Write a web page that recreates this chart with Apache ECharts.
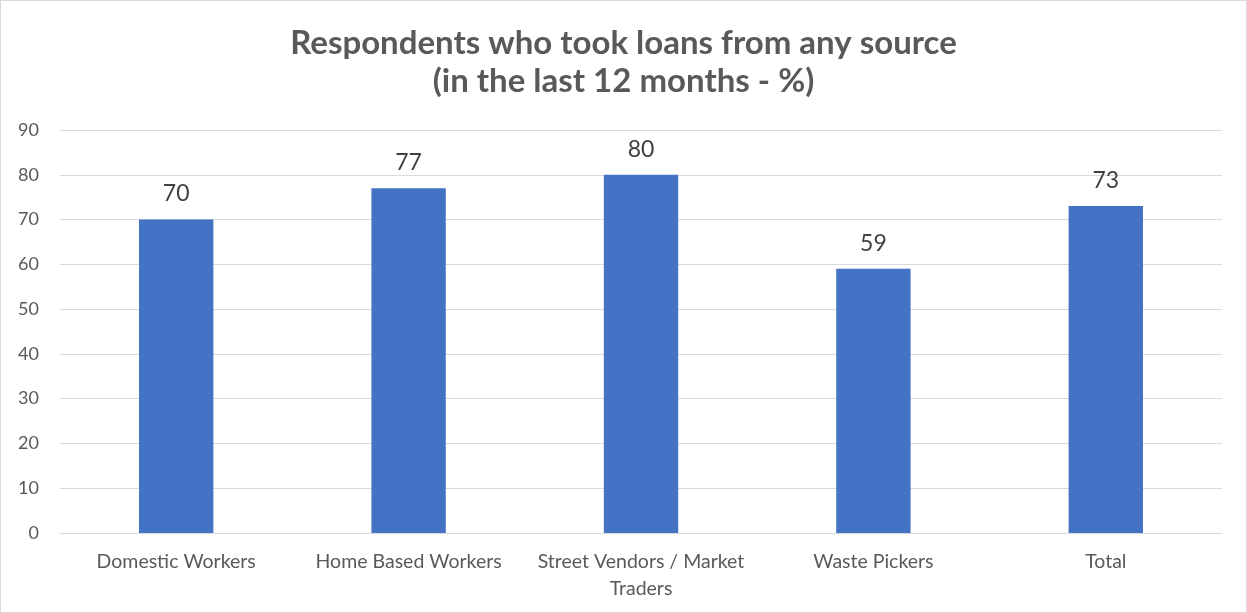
<!DOCTYPE html>
<html><head><meta charset="utf-8">
<script src="https://cdn.jsdelivr.net/npm/echarts@6/dist/echarts.min.js"></script>
<style>html,body{margin:0;padding:0;background:#fff}#c{width:1247px;height:613px;box-sizing:border-box;border:1px solid #d9d9d9}</style>
</head><body><div id="c"></div>
<script>
const categories = ["Domestic Workers", "Home Based Workers", "Street Vendors / Market\nTraders", "Waste Pickers", "Total"];
const values = [70, 77, 80, 59, 73];
const yTicks = [0, 10, 20, 30, 40, 50, 60, 70, 80, 90];
const titleText = "Respondents who took loans from any source\n(in the last 12 months - %)";

const chart = echarts.init(document.getElementById('c'));
chart.setOption({
  animation: false,
  title: {
    text: titleText, left: 'center', top: 18,
    textStyle: {fontFamily: 'Lato', fontWeight: 'bold', fontSize: 33, color: '#595959', lineHeight: 38}
  },
  grid: {left: 59, right: 24, top: 129, bottom: 79},
  xAxis: {
    type: 'category', data: categories,
    axisLine: {lineStyle: {color: '#d9d9d9', width: 1}},
    axisTick: {show: false},
    axisLabel: {fontFamily: 'Lato', fontSize: 19.5, color: '#595959', margin: 15, lineHeight: 27, interval: 0}
  },
  yAxis: {
    type: 'value', min: 0, max: 90, interval: 10,
    axisLine: {show: false}, axisTick: {show: false},
    splitLine: {lineStyle: {color: '#d9d9d9', width: 1}},
    axisLabel: {fontFamily: 'Lato', fontSize: 18, color: '#595959', margin: 21,
      formatter: v => yTicks.includes(v) ? String(v) : ''}
  },
  series: [{
    type: 'bar', data: values, barWidth: '32%',
    itemStyle: {color: '#4472C4'},
    label: {show: true, position: 'top', distance: 14, fontFamily: 'Lato', fontSize: 23, color: '#404040'}
  }]
});
</script></body></html>
